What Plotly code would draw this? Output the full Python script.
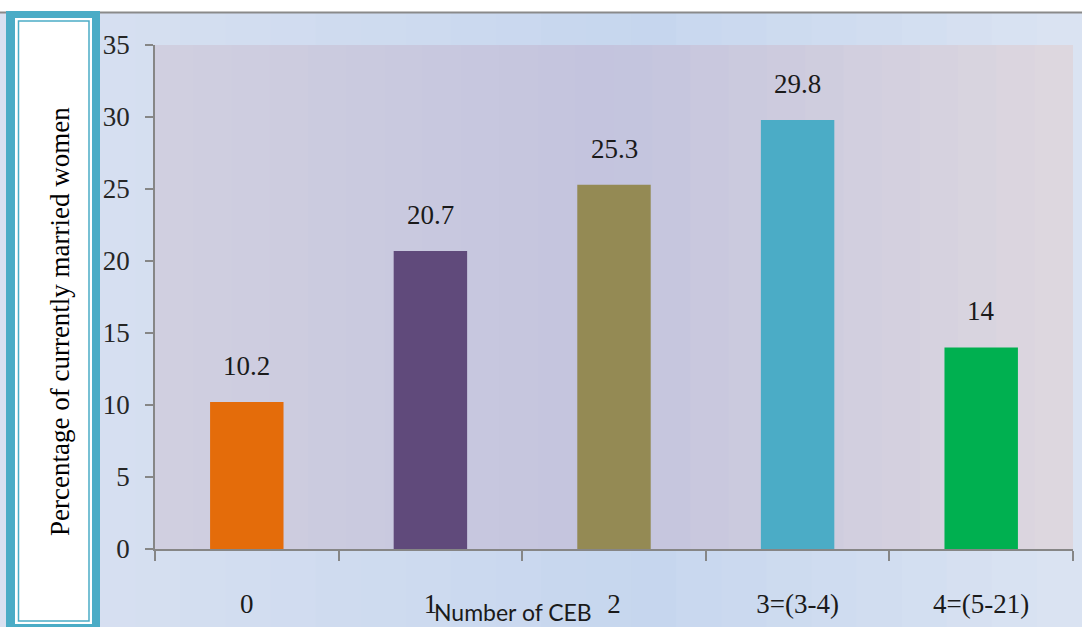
import plotly.graph_objects as go

# chart data
categories = ["0", "1", "2", "3=(3-4)", "4=(5-21)"]
percentages = [10.2, 20.7, 25.3, 29.8, 14]
bar_colors = ["#e46c0a", "#604a7b", "#948a54", "#4bacc6", "#00b050"]
value_labels = ["10.2", "20.7", "25.3", "29.8", "14"]
y_title = "Percentage of currently married women"
x_title = "Number of CEB"

W, H = 1082, 627
L, R, T, B = 155, 9, 45, 78
PW, PH = W - L - R, H - T - B


def px_x(px):
    """figure pixel -> paper x"""
    return (px - L) / PW


def px_y(py):
    """figure pixel -> paper y"""
    return (H - B - py) / PH


def mix(c1, c2, t):
    a = [int(c1[i:i + 2], 16) for i in (1, 3, 5)]
    b = [int(c2[i:i + 2], 16) for i in (1, 3, 5)]
    return "#%02x%02x%02x" % tuple(round(a[k] + (b[k] - a[k]) * t) for k in range(3))


SERIF = "Liberation Serif, Times New Roman, serif"

fig = go.Figure()
fig.add_trace(go.Bar(
    x=categories,
    y=percentages,
    marker=dict(color=bar_colors, line=dict(width=0)),
    width=0.4,
    hoverinfo="x+y",
))

shapes = []
# background gradient of the page (left -> right)
n = 24
for i in range(n):
    x0 = W * i / n
    x1 = W * (i + 1) / n + 1
    t = i / (n - 1)
    col = mix("#d9e1f1", "#c6d6ee", t / 0.6) if t < 0.6 else mix("#c6d6ee", "#dae3f2", (t - 0.6) / 0.4)
    shapes.append(dict(type="rect", xref="paper", yref="paper", layer="below",
                       x0=px_x(x0), x1=px_x(x1), y0=px_y(H), y1=px_y(12),
                       fillcolor=col, line=dict(width=0)))
# plot area gradient
for i in range(n):
    x0 = L + PW * i / n
    x1 = L + PW * (i + 1) / n + 1
    t = i / (n - 1)
    col = mix("#d0cfe0", "#c3c4de", t / 0.5) if t < 0.5 else mix("#c3c4de", "#ddd7df", (t - 0.5) / 0.5)
    shapes.append(dict(type="rect", xref="paper", yref="paper", layer="below",
                       x0=px_x(x0), x1=min(px_x(x1), 1), y0=0, y1=1,
                       fillcolor=col, line=dict(width=0)))
# white strip at top with grey edge
shapes.append(dict(type="rect", xref="paper", yref="paper", layer="below",
                   x0=px_x(0), x1=px_x(W), y0=px_y(12), y1=px_y(0),
                   fillcolor="white", line=dict(width=0)))
shapes.append(dict(type="line", xref="paper", yref="paper", layer="below",
                   x0=px_x(0), x1=px_x(W), y0=px_y(12.5), y1=px_y(12.5),
                   line=dict(color="#8a8a8a", width=2)))
# left framed box for the axis title
shapes.append(dict(type="rect", xref="paper", yref="paper", layer="below",
                   x0=px_x(6), x1=px_x(100), y0=px_y(H + 5), y1=px_y(11),
                   fillcolor="#4bacc6", line=dict(width=0)))
shapes.append(dict(type="rect", xref="paper", yref="paper", layer="below",
                   x0=px_x(15), x1=px_x(92), y0=px_y(H - 3), y1=px_y(18),
                   fillcolor="white", line=dict(width=0)))
shapes.append(dict(type="rect", xref="paper", yref="paper", layer="below",
                   x0=px_x(18.5), x1=px_x(89), y0=px_y(H - 6), y1=px_y(21),
                   fillcolor="white", line=dict(color="#4bacc6", width=1.5)))
fig.update_layout(shapes=shapes)

# value labels above bars
for cat, val, lab in zip(categories, percentages, value_labels):
    fig.add_annotation(x=cat, y=val, text=lab, showarrow=False, yanchor="bottom",
                       yshift=19, font=dict(family=SERIF, size=27, color="#1a1a1a"))

fig.add_annotation(xref="paper", yref="paper", x=px_x(60), y=px_y(322), text=y_title,
                   textangle=-90, showarrow=False, xanchor="center", yanchor="middle",
                   font=dict(family=SERIF, size=27, color="black"))
fig.add_annotation(xref="paper", yref="paper", x=px_x(513), y=px_y(612), text=x_title,
                   showarrow=False, xanchor="center", yanchor="middle",
                   font=dict(family="Lato, Open Sans, sans-serif", size=23, color="#1a1a1a"))

fig.update_layout(
    width=W, height=H,
    margin=dict(l=L, r=R, t=T, b=B, pad=0),
    paper_bgcolor="#d4ddf0",
    plot_bgcolor="#c9c9dd",
    showlegend=False,
    bargap=0.6,
)
fig.update_xaxes(
    type="category",
    showline=True, linecolor="#868686", linewidth=1.5,
    ticks="outside", tickson="boundaries", ticklen=10, tickcolor="#868686", tickwidth=1.5,
    tickfont=dict(family=SERIF, size=27, color="#1a1a1a"),
    ticklabelstandoff=30,
    showgrid=False, zeroline=False,
)
fig.update_yaxes(
    range=[0, 35], dtick=5,
    showline=True, linecolor="#868686", linewidth=1.5,
    ticks="outside", ticklen=8, tickcolor="#868686", tickwidth=1.5,
    tickfont=dict(family=SERIF, size=27, color="#262626"),
    ticklabelstandoff=10,
    showgrid=False, zeroline=False,
)

# drop the browser's default page margin so the figure sits at the window corner
fig.write_html("out.html", config={"displayModeBar": False},
               post_script="document.body.style.margin='0';")
